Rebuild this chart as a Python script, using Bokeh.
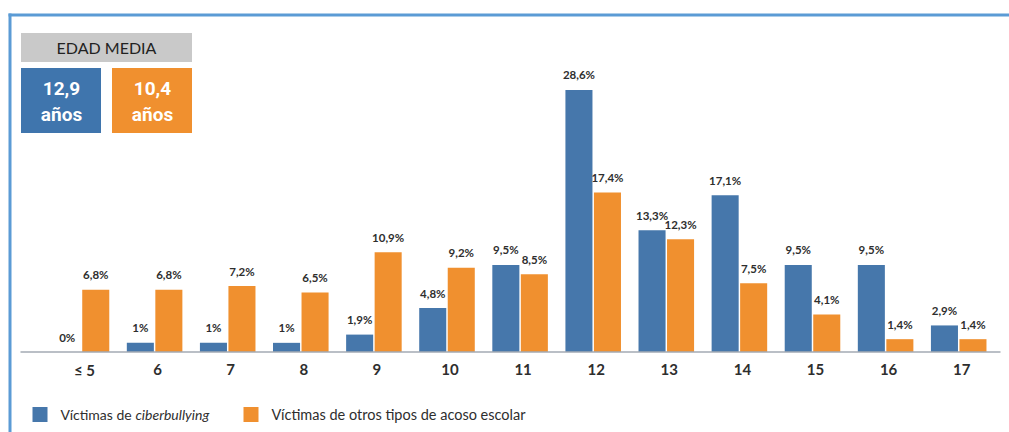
from bokeh.plotting import figure
from bokeh.models import Range1d, ColumnDataSource
from bokeh.core.properties import value
from bokeh.embed import file_html
from bokeh.resources import INLINE

# ---- data ----
categories = ["≤ 5", "6", "7", "8", "9", "10", "11", "12", "13", "14", "15", "16", "17"]
ciber = [0, 1, 1, 1, 1.9, 4.8, 9.5, 28.6, 13.3, 17.1, 9.5, 9.5, 2.9]
otros = [6.8, 6.8, 7.2, 6.5, 10.9, 9.2, 8.5, 17.4, 12.3, 7.5, 4.1, 1.4, 1.4]
series_names = ["Víctimas de", "ciberbullying", "Víctimas de otros tipos de acoso escolar"]
media_title = "EDAD MEDIA"
media_ciber = "12,9"
media_otros = "10,4"
media_unit = "años"

BLUE = "#4677ab"
ORANGE = "#f0902f"
BOX_BLUE = "#3f75ad"
GRAY = "#c9c9c9"
BORDER = "#5b9bd5"
TXT = "#2e2e2e"

W, H = 1009, 432
# pixel <-> data helpers (for decorations only)
PXX, X0PX = 73.1, 81.0
PXY, Y0PX = 9.161, 351.5
def xd(px):
    return (px - X0PX) / PXX
def yd(py):
    return (Y0PX - py) / PXY

p = figure(width=W, height=H, output_backend="svg", toolbar_location=None,
           x_range=Range1d(xd(0), xd(W)), y_range=Range1d(yd(H), yd(0)),
           min_border=0, min_border_left=0, min_border_right=0,
           min_border_top=0, min_border_bottom=0)
p.axis.visible = False
p.grid.visible = False
p.outline_line_color = None
p.background_fill_color = "white"
p.border_fill_color = "white"

def fmt(v):
    return f"{v:g}".replace(".", ",") + "%"

idx = list(range(len(categories)))
off = 0.195
bw = 0.37
src = ColumnDataSource(dict(
    xb=[i - off for i in idx], xo=[i + off for i in idx],
    ciber=ciber, otros=otros,
    lb=[fmt(v) for v in ciber], lo=[fmt(v) for v in otros],
    x=idx, cat=categories, zero=[0] * len(idx)))

p.vbar(x="xb", top="ciber", bottom=0, width=bw, source=src, fill_color=BLUE, line_color=None)
p.vbar(x="xo", top="otros", bottom=0, width=bw, source=src, fill_color=ORANGE, line_color=None)

F = value("Lato")
p.text(x="xb", y="ciber", text="lb", source=src, text_align="center", text_baseline="middle",
       y_offset=-15, text_font=F, text_font_style="bold", text_font_size="11.5px", text_color=TXT)
p.text(x="xo", y="otros", text="lo", source=src, text_align="center", text_baseline="middle",
       y_offset=-15, text_font=F, text_font_style="bold", text_font_size="11.5px", text_color=TXT)

# baseline axis line
p.segment(x0=[xd(20)], x1=[xd(1000)], y0=[0], y1=[0], line_color="#a3aab3", line_width=1.5)

# category labels
p.text(x="x", y="zero", text="cat", source=src, text_align="center", text_baseline="middle",
       x_offset=3, y_offset=17.5, text_font=F, text_font_style="bold", text_font_size="15px", text_color=TXT)

# frame border (top and left)
p.segment(x0=[xd(8), xd(9.5)], x1=[xd(W + 5), xd(9.5)], y0=[yd(14.5), yd(13)], y1=[yd(14.5), yd(H + 5)],
          line_color=BORDER, line_width=3)

# EDAD MEDIA boxes
p.quad(left=[xd(20.5)], right=[xd(191.5)], top=[yd(32.5)], bottom=[yd(61.5)], fill_color=GRAY, line_color=None)
p.quad(left=[xd(20.5), xd(111.5)], right=[xd(100.5), xd(191.5)], top=[yd(67.5)] * 2, bottom=[yd(132.5)] * 2,
       fill_color=[BOX_BLUE, ORANGE], line_color=None)
p.text(x=[xd(106)], y=[yd(47)], text=[media_title], text_align="center", text_baseline="middle",
       text_font=F, text_font_size="16px", text_color="#222222")
p.text(x=[xd(61), xd(152)], y=[yd(88), yd(88)], text=[media_ciber, media_otros], text_align="center",
       text_baseline="middle", text_font=value("Roboto"), text_font_style="bold",
       text_font_size="19px", text_color="white")
p.text(x=[xd(61), xd(152)], y=[yd(114), yd(114)], text=[media_unit, media_unit], text_align="center",
       text_baseline="middle", text_font=value("Roboto"), text_font_style="bold",
       text_font_size="19px", text_color="white")

# legend
p.quad(left=[xd(32), xd(243)], right=[xd(47), xd(258)], top=[yd(406.5)] * 2, bottom=[yd(421.5)] * 2,
       fill_color=[BLUE, ORANGE], line_color=None)
p.text(x=[xd(60)], y=[yd(414)], text=[series_names[0]], text_baseline="middle",
       text_font=F, text_font_size="14px", text_color=TXT)
p.text(x=[xd(135)], y=[yd(414)], text=[series_names[1]], text_baseline="middle",
       text_font=F, text_font_style="italic", text_font_size="14px", text_color=TXT)
p.text(x=[xd(271)], y=[yd(414)], text=[series_names[2]], text_baseline="middle",
       text_font=F, text_font_size="14.5px", text_color=TXT)

open("out.html", "w").write(file_html(p, INLINE))
